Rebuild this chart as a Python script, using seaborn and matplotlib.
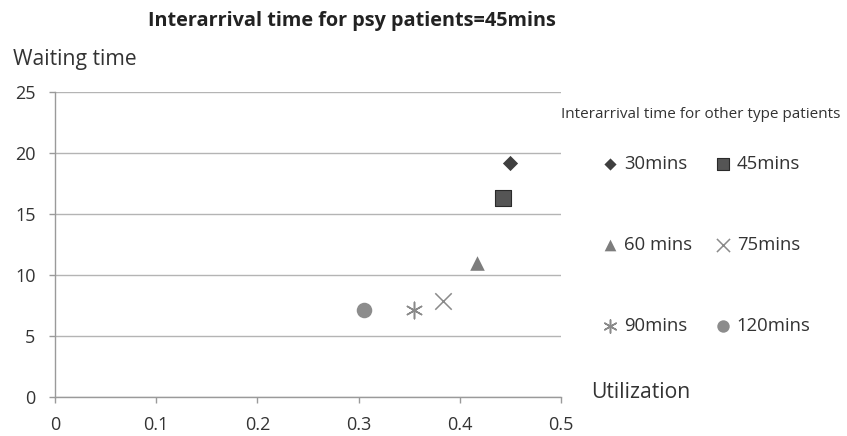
import matplotlib
matplotlib.use("Agg")
import matplotlib.pyplot as plt
import seaborn as sns

# Interarrival time of the other patient types, and the resulting results
intervals = ["30mins", "45mins", "60 mins", "75mins", "90mins", "120mins"]
utilization = [0.450, 0.443, 0.417, 0.383, 0.355, 0.305]
waiting_time = [19.2, 16.3, 11.0, 7.9, 7.1, 7.1]

x_ticks = [0, 0.1, 0.2, 0.3, 0.4, 0.5]
x_tick_labels = ["0", "0.1", "0.2", "0.3", "0.4", "0.5"]
y_ticks = [0, 5, 10, 15, 20, 25]

sns.set_theme(style="white")
plt.rcParams["font.family"] = ["Open Sans", "DejaVu Sans"]

# marker, colour, size, edge width per series
styles = {
    "30mins": ("D", "#3f3f3f", 60, 0.0),
    "45mins": ("s", "#3c3c3c", 130, 0.8),
    "60 mins": ("^", "#7d7d7d", 110, 0.0),
    "75mins": ("x", "#8a8a8a", 140, 1.1),
    "90mins": ((6, 2, 0), "#8a8a8a", 140, 1.1),
    "120mins": ("o", "#8c8c8c", 125, 0.0),
}

W, H = 847, 436
fig = plt.figure(figsize=(W / 100, H / 100), dpi=100)
ax = fig.add_axes([55 / W, 39 / H, 506 / W, 305 / H])

for name, u, w in zip(intervals, utilization, waiting_time):
    marker, color, size, lw = styles[name]
    if name == "45mins":
        sns.scatterplot(x=[u], y=[w], marker=marker, s=size, color="#555555",
                        edgecolor="#2a2a2a", linewidth=lw, label=name, ax=ax, zorder=3)
    else:
        sns.scatterplot(x=[u], y=[w], marker=marker, s=size, color=color,
                        edgecolor=color, linewidth=lw, label=name, ax=ax, zorder=3)

ax.set_xlim(0, 0.5)
ax.set_ylim(0, 25)
ax.set_xticks(x_ticks)
ax.set_xticklabels(x_tick_labels)
ax.set_yticks(y_ticks)
ax.set_xlabel("")
ax.set_ylabel("")

ax.grid(axis="y", color="#b4b4b4", linewidth=1.0)
ax.grid(axis="x", visible=False)
for side in ("top", "right"):
    ax.spines[side].set_visible(False)
for side in ("left", "bottom"):
    ax.spines[side].set_color("#9a9a9a")
    ax.spines[side].set_linewidth(1.0)

ax.tick_params(axis="y", left=True, length=4, width=1, color="#9a9a9a",
               pad=10, labelsize=13, labelcolor="#333333")
ax.tick_params(axis="x", bottom=True, length=4, width=1, color="#9a9a9a",
               pad=10, labelsize=13, labelcolor="#333333")

# titles and axis captions
fig.text(352 / W, 1 - 21 / H, "Interarrival time for psy patients=45mins",
         ha="center", va="center", fontsize=14.3, fontweight="bold", color="#222222")
fig.text(13 / W, 1 - 59 / H, "Waiting time", ha="left", va="center",
         fontsize=15.2, color="#333333")
fig.text(591 / W, 1 - 392 / H, "Utilization", ha="left", va="center",
         fontsize=15.2, color="#333333")

# legend: two columns, three rows
handles, labels = ax.get_legend_handles_labels()
if ax.legend_:
    ax.legend_.remove()
order = [0, 2, 4, 1, 3, 5]
fig.legend([handles[i] for i in order], [labels[i] for i in order],
           ncol=2, loc="upper left", bbox_to_anchor=(592 / W, 1 - 146 / H),
           frameon=False, fontsize=13.3, labelspacing=3.4, handletextpad=0.25,
           columnspacing=1.15, handlelength=1.0, markerscale=0.8,
           labelcolor="#333333", borderpad=0.0)
fig.text(701 / W, 1 - 114 / H, "Interarrival time for other type patients",
         ha="center", va="center", fontsize=11, color="#333333")

fig.savefig("out.png", dpi=100, facecolor="white")
